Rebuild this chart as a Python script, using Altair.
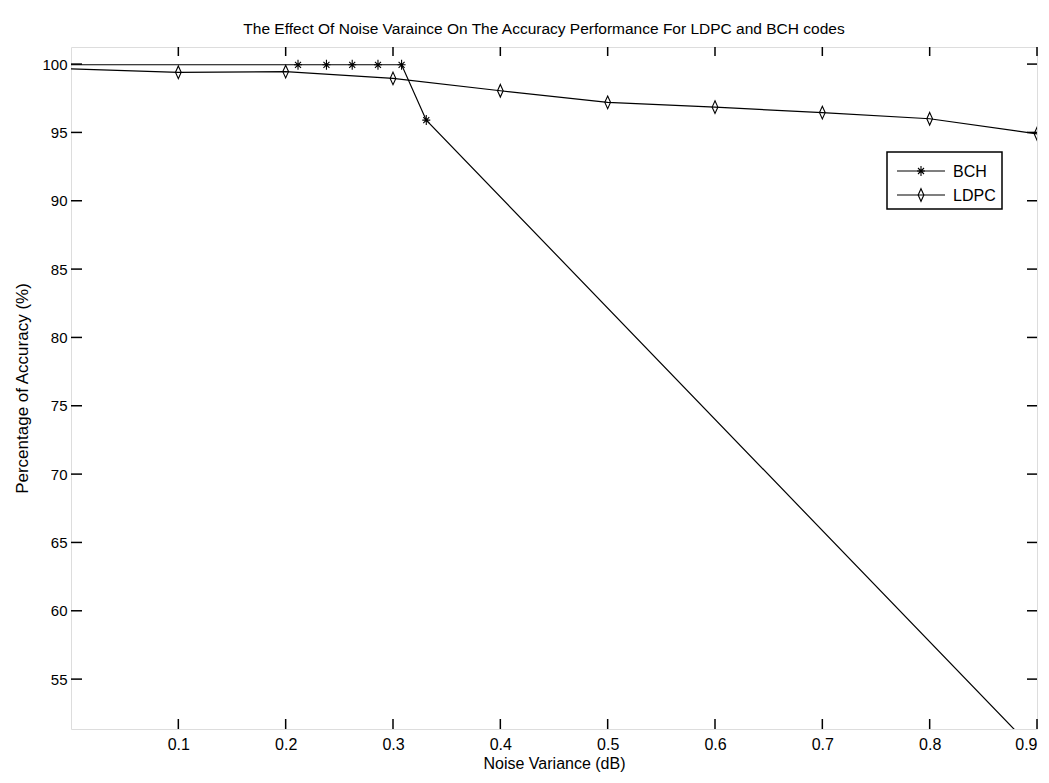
import altair as alt
import pandas as pd

# ---- data ----
SERIES = ["BCH", "LDPC"]

bch_x = [0.0, 0.2115, 0.238, 0.262, 0.286, 0.308, 0.331, 0.9]
bch_y = [99.95, 99.95, 99.95, 99.95, 99.95, 99.95, 95.9, 49.6]

ldpc_x = [0.0, 0.1, 0.2, 0.3, 0.4, 0.5, 0.6, 0.7, 0.8, 0.9]
ldpc_y = [99.65, 99.4, 99.45, 98.95, 98.05, 97.2, 96.85, 96.45, 96.0, 94.9]

x_ticks = [0.1, 0.2, 0.3, 0.4, 0.5, 0.6, 0.7, 0.8, 0.9]
y_ticks = [55, 60, 65, 70, 75, 80, 85, 90, 95, 100]

X_DOMAIN = [0.0, 0.9]
Y_DOMAIN = [51.35, 101.25]

TITLE = "The Effect Of Noise Varaince On The Accuracy Performance For LDPC and BCH codes"
X_TITLE = "Noise Variance (dB)"
Y_TITLE = "Percentage of Accuracy (%)"

W, H = 966, 682
FONT = "Liberation Sans"

STAR = "M-0.8,0L0.8,0M0,-1L0,1M-0.6,-0.6L0.6,0.6M-0.6,0.6L0.6,-0.6"
DIAMOND = "M0,-1L0.45,0L0,1L-0.45,0Z"
SHAPES = {"BCH": STAR, "LDPC": DIAMOND}
SIZES = {"BCH": 100, "LDPC": 160}

df = pd.concat([
    pd.DataFrame({"x": bch_x, "y": bch_y, "series": "BCH"}),
    pd.DataFrame({"x": ldpc_x, "y": ldpc_y, "series": "LDPC"}),
], ignore_index=True)

xs = alt.Scale(domain=X_DOMAIN, nice=False, zero=False)
ys = alt.Scale(domain=Y_DOMAIN, nice=False, zero=False)

x_axis = alt.Axis(values=x_ticks, format=".1f", ticks=False, tickSize=0, domain=False, grid=False,
                  labelFont=FONT, labelFontSize=16, labelColor="black", labelPadding=7,
                  title=X_TITLE, titleFont=FONT, titleFontSize=16, titleFontWeight="normal",
                  titleColor="black", titlePadding=3)
y_axis = alt.Axis(values=y_ticks, ticks=False, tickSize=0, domain=False, grid=False,
                  labelFont=FONT, labelFontSize=15, labelColor="black", labelPadding=4,
                  title=Y_TITLE, titleFont=FONT, titleFontSize=17, titleFontWeight="normal",
                  titleColor="black", titlePadding=10)

base = alt.Chart(df)

lines = []
points = []
for s in SERIES:
    sub = base.transform_filter(alt.datum.series == s)
    lines.append(
        sub.mark_line(color="black", strokeWidth=1.2, clip=True).encode(
            x=alt.X("x:Q", scale=xs, axis=x_axis),
            y=alt.Y("y:Q", scale=ys, axis=y_axis),
        )
    )
    points.append(
        sub.transform_filter(alt.datum.x > 0).mark_point(
            shape=SHAPES[s], size=SIZES[s], filled=False, color="black",
            strokeWidth=1.1, opacity=1, clip=True
        ).encode(x=alt.X("x:Q", scale=xs), y=alt.Y("y:Q", scale=ys))
    )

# inward ticks on all four sides
xt = alt.Chart(pd.DataFrame({"t": x_ticks}))
yt = alt.Chart(pd.DataFrame({"t": y_ticks}))
tick_style = dict(color="black", strokeWidth=1.5)
ticks = [
    xt.mark_rule(**tick_style).encode(x=alt.X("t:Q", scale=xs), y=alt.value(H), y2=alt.value(H - 10)),
    xt.mark_rule(**tick_style).encode(x=alt.X("t:Q", scale=xs), y=alt.value(0), y2=alt.value(9)),
    yt.mark_rule(**tick_style).encode(y=alt.Y("t:Q", scale=ys), x=alt.value(0), x2=alt.value(11)),
    yt.mark_rule(**tick_style).encode(y=alt.Y("t:Q", scale=ys), x=alt.value(W), x2=alt.value(W - 10)),
]

# legend box (top right, inside plot)
LX0, LX1, LY0, LY1 = 816, 931, 105, 162
leg_df = pd.DataFrame({"series": SERIES})
legend_layers = [
    alt.Chart(leg_df.head(1)).mark_rect(fill="white", stroke="black", strokeWidth=1.5).encode(
        x=alt.value(LX0), x2=alt.value(LX1), y=alt.value(LY0), y2=alt.value(LY1)
    )
]
for i, s in enumerate(SERIES):
    ry = 124 + 24 * i
    one = alt.Chart(pd.DataFrame({"series": [s]}))
    legend_layers.append(
        one.mark_rule(color="black", strokeWidth=1.2).encode(
            x=alt.value(826), x2=alt.value(874), y=alt.value(ry)
        )
    )
    legend_layers.append(
        one.mark_point(shape=SHAPES[s], size=SIZES[s], filled=False, color="black",
                       strokeWidth=1.1, opacity=1).encode(x=alt.value(850), y=alt.value(ry))
    )
    legend_layers.append(
        one.mark_text(align="left", baseline="middle", font=FONT, fontSize=16, color="black").encode(
            text="series:N", x=alt.value(882), y=alt.value(ry + 1)
        )
    )

chart = alt.layer(*lines, *points, *ticks, *legend_layers).properties(
    width=W,
    height=H,
    title=alt.TitleParams(TITLE, font=FONT, fontSize=15.5, fontWeight="normal", color="black",
                          anchor="middle", offset=9, dx=-10),
    padding={"left": 63, "top": 39, "right": 4, "bottom": 46},
    autosize=alt.AutoSizeParams(type="none"),
).configure_view(
    stroke="black", strokeWidth=2
).configure(background="white")

chart.save("out.html", embed_options={"renderer": "svg", "actions": False})
